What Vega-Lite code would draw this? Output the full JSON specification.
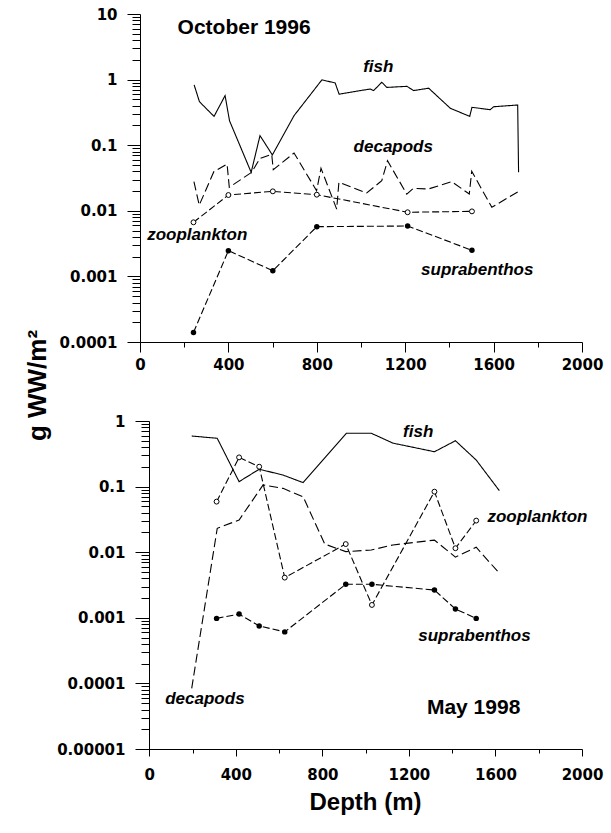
{
  "$schema": "https://vega.github.io/schema/vega-lite/v6.json",
  "background": "white",
  "padding": {"left": 24, "top": 7, "right": 5, "bottom": 5},
  "spacing": 42,
  "title": {"text": "g WW/m²", "orient": "left", "anchor": "middle", "font": "Liberation Sans", "fontSize": 26, "fontWeight": "bold", "color": "black", "offset": 6, "dx": 25},
  "config": {
    "view": {"stroke": null},
    "axis": {"domainColor": "black", "tickColor": "black", "labelColor": "black", "labelFont": "DejaVu Sans", "labelFontWeight": "bold", "labelFontSize": 15, "grid": false, "domainWidth": 1, "tickWidth": 1, "labelOverlap": false, "labelBound": false, "labelFlush": false}
  },
  "datasets": {
    "oct": [
      {"s": "fish", "d": 245, "v": 0.83}, {"s": "fish", "d": 269, "v": 0.46}, {"s": "fish", "d": 335, "v": 0.275}, {"s": "fish", "d": 385, "v": 0.57}, {"s": "fish", "d": 405, "v": 0.236}, {"s": "fish", "d": 503, "v": 0.0386}, {"s": "fish", "d": 543, "v": 0.14}, {"s": "fish", "d": 599, "v": 0.071}, {"s": "fish", "d": 697, "v": 0.282}, {"s": "fish", "d": 823, "v": 0.99}, {"s": "fish", "d": 883, "v": 0.89}, {"s": "fish", "d": 901, "v": 0.6}, {"s": "fish", "d": 1042, "v": 0.72}, {"s": "fish", "d": 1057, "v": 0.68}, {"s": "fish", "d": 1094, "v": 0.91}, {"s": "fish", "d": 1117, "v": 0.76}, {"s": "fish", "d": 1208, "v": 0.79}, {"s": "fish", "d": 1238, "v": 0.68}, {"s": "fish", "d": 1306, "v": 0.74}, {"s": "fish", "d": 1404, "v": 0.366}, {"s": "fish", "d": 1492, "v": 0.275}, {"s": "fish", "d": 1502, "v": 0.378}, {"s": "fish", "d": 1585, "v": 0.348}, {"s": "fish", "d": 1600, "v": 0.386}, {"s": "fish", "d": 1709, "v": 0.41}, {"s": "fish", "d": 1713, "v": 0.0386},
      {"s": "decapods", "d": 244, "v": 0.0278}, {"s": "decapods", "d": 268, "v": 0.0122}, {"s": "decapods", "d": 334, "v": 0.0394}, {"s": "decapods", "d": 394, "v": 0.0516}, {"s": "decapods", "d": 404, "v": 0.0228}, {"s": "decapods", "d": 505, "v": 0.0386}, {"s": "decapods", "d": 543, "v": 0.063}, {"s": "decapods", "d": 596, "v": 0.0727}, {"s": "decapods", "d": 603, "v": 0.0423}, {"s": "decapods", "d": 697, "v": 0.076}, {"s": "decapods", "d": 799, "v": 0.0202}, {"s": "decapods", "d": 819, "v": 0.0445}, {"s": "decapods", "d": 890, "v": 0.0106}, {"s": "decapods", "d": 900, "v": 0.0272}, {"s": "decapods", "d": 1026, "v": 0.0187}, {"s": "decapods", "d": 1094, "v": 0.0288}, {"s": "decapods", "d": 1120, "v": 0.058}, {"s": "decapods", "d": 1207, "v": 0.018}, {"s": "decapods", "d": 1237, "v": 0.022}, {"s": "decapods", "d": 1305, "v": 0.0215}, {"s": "decapods", "d": 1411, "v": 0.0278}, {"s": "decapods", "d": 1490, "v": 0.018}, {"s": "decapods", "d": 1501, "v": 0.04}, {"s": "decapods", "d": 1592, "v": 0.0113}, {"s": "decapods", "d": 1710, "v": 0.0195},
      {"s": "zooplankton", "d": 242, "v": 0.00668}, {"s": "zooplankton", "d": 400, "v": 0.0174}, {"s": "zooplankton", "d": 601, "v": 0.0198}, {"s": "zooplankton", "d": 800, "v": 0.0176}, {"s": "zooplankton", "d": 1211, "v": 0.0095}, {"s": "zooplankton", "d": 1502, "v": 0.0098},
      {"s": "suprabenthos", "d": 242, "v": 0.00014}, {"s": "suprabenthos", "d": 400, "v": 0.00247}, {"s": "suprabenthos", "d": 601, "v": 0.00122}, {"s": "suprabenthos", "d": 800, "v": 0.00573}, {"s": "suprabenthos", "d": 1211, "v": 0.00586}, {"s": "suprabenthos", "d": 1502, "v": 0.0025},
      {"t": "October 1996", "k": "period", "d": 471, "v": 6.05},
      {"t": "fish", "k": "series", "d": 1078, "v": 1.54},
      {"t": "decapods", "k": "series", "d": 1146, "v": 0.095},
      {"t": "zooplankton", "k": "series", "d": 259, "v": 0.00428},
      {"t": "suprabenthos", "k": "series", "d": 1526, "v": 0.00126}
    ],
    "may": [
      {"s": "fish", "d": 196, "v": 0.59}, {"s": "fish", "d": 314, "v": 0.545}, {"s": "fish", "d": 415, "v": 0.119}, {"s": "fish", "d": 508, "v": 0.184}, {"s": "fish", "d": 618, "v": 0.15}, {"s": "fish", "d": 711, "v": 0.115}, {"s": "fish", "d": 911, "v": 0.65}, {"s": "fish", "d": 1026, "v": 0.65}, {"s": "fish", "d": 1126, "v": 0.46}, {"s": "fish", "d": 1318, "v": 0.34}, {"s": "fish", "d": 1415, "v": 0.5}, {"s": "fish", "d": 1511, "v": 0.254}, {"s": "fish", "d": 1618, "v": 0.0867},
      {"s": "decapods", "d": 196, "v": 0.0000841}, {"s": "decapods", "d": 314, "v": 0.0231}, {"s": "decapods", "d": 415, "v": 0.031}, {"s": "decapods", "d": 526, "v": 0.106}, {"s": "decapods", "d": 618, "v": 0.094}, {"s": "decapods", "d": 711, "v": 0.07}, {"s": "decapods", "d": 811, "v": 0.0133}, {"s": "decapods", "d": 908, "v": 0.0102}, {"s": "decapods", "d": 1026, "v": 0.0108}, {"s": "decapods", "d": 1126, "v": 0.0129}, {"s": "decapods", "d": 1318, "v": 0.0153}, {"s": "decapods", "d": 1415, "v": 0.0084}, {"s": "decapods", "d": 1511, "v": 0.0119}, {"s": "decapods", "d": 1618, "v": 0.00477},
      {"s": "zooplankton", "d": 311, "v": 0.059}, {"s": "zooplankton", "d": 415, "v": 0.279}, {"s": "zooplankton", "d": 508, "v": 0.201}, {"s": "zooplankton", "d": 626, "v": 0.0041}, {"s": "zooplankton", "d": 908, "v": 0.0133}, {"s": "zooplankton", "d": 1029, "v": 0.00157}, {"s": "zooplankton", "d": 1318, "v": 0.0837}, {"s": "zooplankton", "d": 1415, "v": 0.0115}, {"s": "zooplankton", "d": 1511, "v": 0.0303},
      {"s": "suprabenthos", "d": 311, "v": 0.00098}, {"s": "suprabenthos", "d": 415, "v": 0.00114}, {"s": "suprabenthos", "d": 508, "v": 0.00075}, {"s": "suprabenthos", "d": 626, "v": 0.00061}, {"s": "suprabenthos", "d": 908, "v": 0.00324}, {"s": "suprabenthos", "d": 1029, "v": 0.00324}, {"s": "suprabenthos", "d": 1318, "v": 0.00265}, {"s": "suprabenthos", "d": 1415, "v": 0.00136}, {"s": "suprabenthos", "d": 1511, "v": 0.00098},
      {"t": "May 1998", "k": "period", "d": 1499, "v": 0.0000417},
      {"t": "fish", "k": "series", "d": 1243, "v": 0.687},
      {"t": "zooplankton", "k": "series", "d": 1794, "v": 0.0348},
      {"t": "decapods", "k": "series", "d": 257, "v": 0.0000573},
      {"t": "suprabenthos", "k": "series", "d": 1503, "v": 0.000528}
    ]
  },
  "vconcat": [
    {
      "width": 442, "height": 328,
      "data": {"name": "oct"},
      "encoding": {
        "x": {"field": "d", "type": "quantitative", "scale": {"domain": [0, 2000], "nice": false, "zero": false},
          "axis": {"title": null, "values": [0, 200, 400, 600, 800, 1000, 1200, 1400, 1600, 1800, 2000], "labelExpr": "datum.value % 400 === 0 ? '' + datum.value : ''", "tickSize": {"condition": {"test": "datum.value % 400 !== 0", "value": 5}, "value": 10}, "labelPadding": 5}},
        "y": {"field": "v", "type": "quantitative", "scale": {"type": "log", "domain": [0.0001, 10], "nice": false},
          "axis": {"title": null, "values": [0.0001, 0.0002, 0.0003, 0.0004, 0.0005, 0.0006, 0.0007, 0.0008, 0.0009, 0.001, 0.002, 0.003, 0.004, 0.005, 0.006, 0.007, 0.008, 0.009, 0.01, 0.02, 0.03, 0.04, 0.05, 0.06, 0.07, 0.08, 0.09, 0.1, 0.2, 0.3, 0.4, 0.5, 0.6, 0.7, 0.8, 0.9, 1, 2, 3, 4, 5, 6, 7, 8, 9, 10],
            "labelExpr": "indexof([0.0001, 0.001, 0.01, 0.1, 1, 10], datum.value) >= 0 ? '' + datum.value : ''",
            "tickSize": {"condition": {"test": "indexof([0.0001, 0.001, 0.01, 0.1, 1, 10], datum.value) < 0", "value": 8}, "value": 13}, "labelPadding": 10}}
      },
      "layer": [
        {"transform": [{"filter": "isValid(datum.s)"}], "mark": {"type": "line", "color": "black", "strokeWidth": 1.1},
          "encoding": {"detail": {"field": "s", "type": "nominal"}, "order": {"field": "d", "type": "quantitative"},
            "strokeDash": {"field": "s", "type": "nominal", "legend": null, "scale": {"domain": ["fish", "decapods", "zooplankton", "suprabenthos"], "range": [[1, 0], [9, 4], [7, 3], [7, 3]]}}}},
        {"transform": [{"filter": "datum.s === 'zooplankton'"}], "mark": {"type": "point", "shape": "circle", "filled": true, "fill": "white", "stroke": "black", "strokeWidth": 1, "size": 24, "opacity": 1}},
        {"transform": [{"filter": "datum.s === 'suprabenthos'"}], "mark": {"type": "point", "shape": "circle", "filled": true, "color": "black", "size": 30, "opacity": 1}},
        {"transform": [{"filter": "datum.k === 'series'"}], "mark": {"type": "text", "font": "Liberation Sans", "fontSize": 17, "fontWeight": "bold", "fontStyle": "italic", "color": "black"}, "encoding": {"text": {"field": "t"}}},
        {"transform": [{"filter": "datum.k === 'period'"}], "mark": {"type": "text", "font": "Liberation Sans", "fontSize": 21, "fontWeight": "bold", "color": "black"}, "encoding": {"text": {"field": "t"}}}
      ]
    },
    {
      "width": 442, "height": 328,
      "data": {"name": "may"},
      "encoding": {
        "x": {"field": "d", "type": "quantitative", "scale": {"domain": [-43, 2000], "nice": false, "zero": false},
          "axis": {"title": "Depth (m)", "titleFont": "Liberation Sans", "titleFontSize": 24, "titleFontWeight": "bold", "titleColor": "black", "titlePadding": 8, "titleX": 225, "values": [0, 200, 400, 600, 800, 1000, 1200, 1400, 1600, 1800, 2000], "labelExpr": "datum.value % 400 === 0 ? '' + datum.value : ''", "tickSize": {"condition": {"test": "datum.value % 400 !== 0", "value": 4}, "value": 7}, "labelPadding": 11}},
        "y": {"field": "v", "type": "quantitative", "scale": {"type": "log", "domain": [0.00001, 1], "nice": false},
          "axis": {"title": null, "offset": -9, "values": [0.00001, 0.00002, 0.00003, 0.00004, 0.00005, 0.00006, 0.00007, 0.00008, 0.00009, 0.0001, 0.0002, 0.0003, 0.0004, 0.0005, 0.0006, 0.0007, 0.0008, 0.0009, 0.001, 0.002, 0.003, 0.004, 0.005, 0.006, 0.007, 0.008, 0.009, 0.01, 0.02, 0.03, 0.04, 0.05, 0.06, 0.07, 0.08, 0.09, 0.1, 0.2, 0.3, 0.4, 0.5, 0.6, 0.7, 0.8, 0.9, 1],
            "labelExpr": "indexof([0.00001, 0.0001, 0.001, 0.01, 0.1, 1], datum.value) >= 0 ? '' + datum.value : ''",
            "tickSize": {"condition": {"test": "indexof([0.00001, 0.0001, 0.001, 0.01, 0.1, 1], datum.value) < 0", "value": 8}, "value": 14}, "labelPadding": 10}}
      },
      "layer": [
        {"transform": [{"filter": "isValid(datum.s)"}], "mark": {"type": "line", "color": "black", "strokeWidth": 1.1},
          "encoding": {"detail": {"field": "s", "type": "nominal"}, "order": {"field": "d", "type": "quantitative"},
            "strokeDash": {"field": "s", "type": "nominal", "legend": null, "scale": {"domain": ["fish", "decapods", "zooplankton", "suprabenthos"], "range": [[1, 0], [9, 4], [6, 3], [6, 3]]}}}},
        {"transform": [{"filter": "datum.s === 'zooplankton'"}], "mark": {"type": "point", "shape": "circle", "filled": true, "fill": "white", "stroke": "black", "strokeWidth": 1, "size": 24, "opacity": 1}},
        {"transform": [{"filter": "datum.s === 'suprabenthos'"}], "mark": {"type": "point", "shape": "circle", "filled": true, "color": "black", "size": 30, "opacity": 1}},
        {"transform": [{"filter": "datum.k === 'series'"}], "mark": {"type": "text", "font": "Liberation Sans", "fontSize": 17, "fontWeight": "bold", "fontStyle": "italic", "color": "black"}, "encoding": {"text": {"field": "t"}}},
        {"transform": [{"filter": "datum.k === 'period'"}], "mark": {"type": "text", "font": "Liberation Sans", "fontSize": 21, "fontWeight": "bold", "color": "black"}, "encoding": {"text": {"field": "t"}}}
      ]
    }
  ]
}
